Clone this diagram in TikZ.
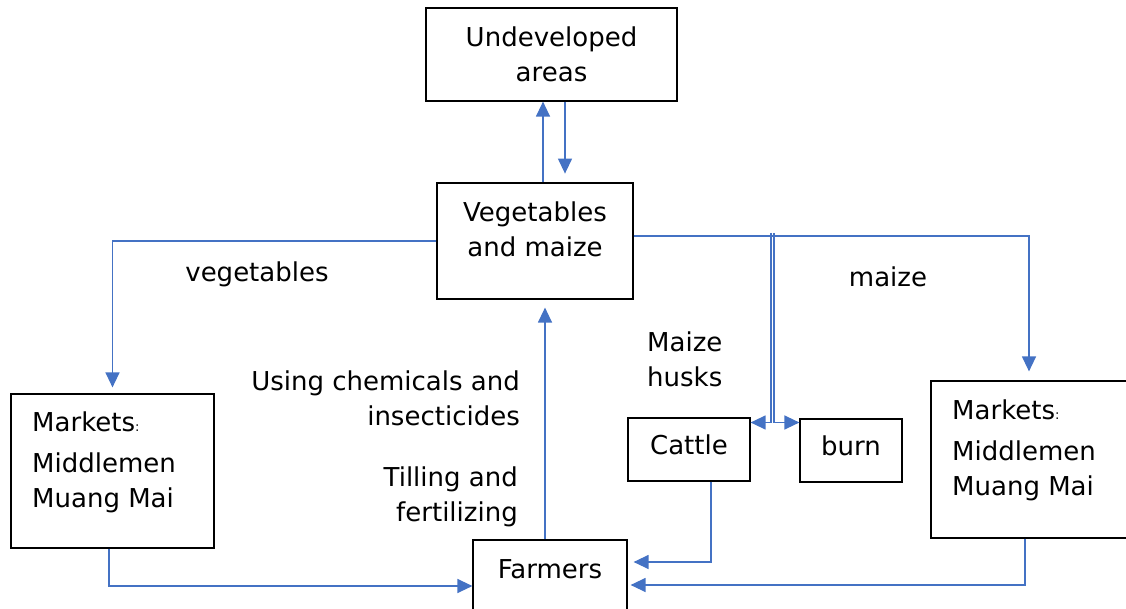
\documentclass[tikz,border=0pt]{standalone}
\usepackage{fontspec}
\setmainfont{DejaVu Sans}
\usetikzlibrary{arrows.meta, positioning, calc}
\definecolor{flowblue}{HTML}{4472C4}

\begin{document}
\begin{tikzpicture}[
  x=1pt, y=-1pt,
  box/.style={rectangle, draw, line width=1.2pt},
  flow/.style={draw=flowblue, line width=1.3pt, -{Triangle[length=15pt, width=14pt]}},
  every node/.style={font=\fontsize{26}{35}\selectfont, inner sep=0pt}
]
  \useasboundingbox (0,0) rectangle (1126,609);

  % boxes
  \node[box, minimum width=251, minimum height=93] (undev) at (551.5,54.5) {};
  \node[align=center] (undevtext) at (551.5,54) {Undeveloped\\areas};
  \node[box, minimum width=196, minimum height=116] (veg) at (535,241) {};
  \node[align=center] (vegtext) at (535,229) {Vegetables\\and maize};
  \node[box, minimum width=203, minimum height=154] (lmark) at (112.5,471) {};
  \node[anchor=west, align=left] (lmarktext) at (32,462) {Markets{\fontsize{13}{13}\selectfont:}\\[6pt]Middlemen\\Muang Mai};
  \node[box, minimum width=196, minimum height=157] (rmark) at (1029,459.5) {};
  \node[anchor=west, align=left] (rmarktext) at (952,450) {Markets{\fontsize{13}{13}\selectfont:}\\[6pt]Middlemen\\Muang Mai};
  \node[box, minimum width=122, minimum height=63] (cattle) at (689,449.5) {};
  \node (cattletext) at (689,445) {Cattle};
  \node[box, minimum width=102, minimum height=63] (burn) at (851,450.5) {};
  \node (burntext) at (851,446) {burn};
  \node[box, minimum width=154, minimum height=72] (farmers) at (550,576) {};
  \node (farmtext) at (550,569) {Farmers};

  % labels
  \node (lveg) at (257,274) {vegetables};
  \node (lmaize) at (888,277) {maize};
  \node[anchor=west, align=left] (lhusk) at (647,359) {Maize\\husks};
  \node[anchor=east, align=right] (lchem) at (520,398) {Using chemicals and\\insecticides};
  \node[anchor=east, align=right] (ltill) at (518,497) {Tilling and\\fertilizing};

  % connectors
  \draw[flow] ([xshift=8]veg.north) -- ([xshift=8]veg.north |- undev.south);
  \draw[flow] ([xshift=13.5]undev.south) -- ++(0,72);
  \draw[flow, shorten >=6pt] (veg.west) -| (lmark.north);
  \draw[flow, shorten >=9pt] ([yshift=5]veg.east) -| (rmark.north);

  \coordinate (husk) at (771,233);
  \draw[flow] (husk) |- ([yshift=27]cattle.east);
  \draw[flow] ([xshift=3]husk) |- ([yshift=28]burn.west);

  \draw[flow, shorten >=8pt] ([xshift=-5]farmers.north) -- ([xshift=-5]farmers.north |- veg.south);
  \draw[flow] ([xshift=-3.5]lmark.south) |- ([yshift=-10]farmers.west);
  \draw[flow] ([xshift=22]cattle.south) |- ([xshift=6,yshift=14]farmers.east);
  \draw[flow] ([xshift=-4]rmark.south) |- ([xshift=3,yshift=-9]farmers.east);
\end{tikzpicture}
\end{document}
